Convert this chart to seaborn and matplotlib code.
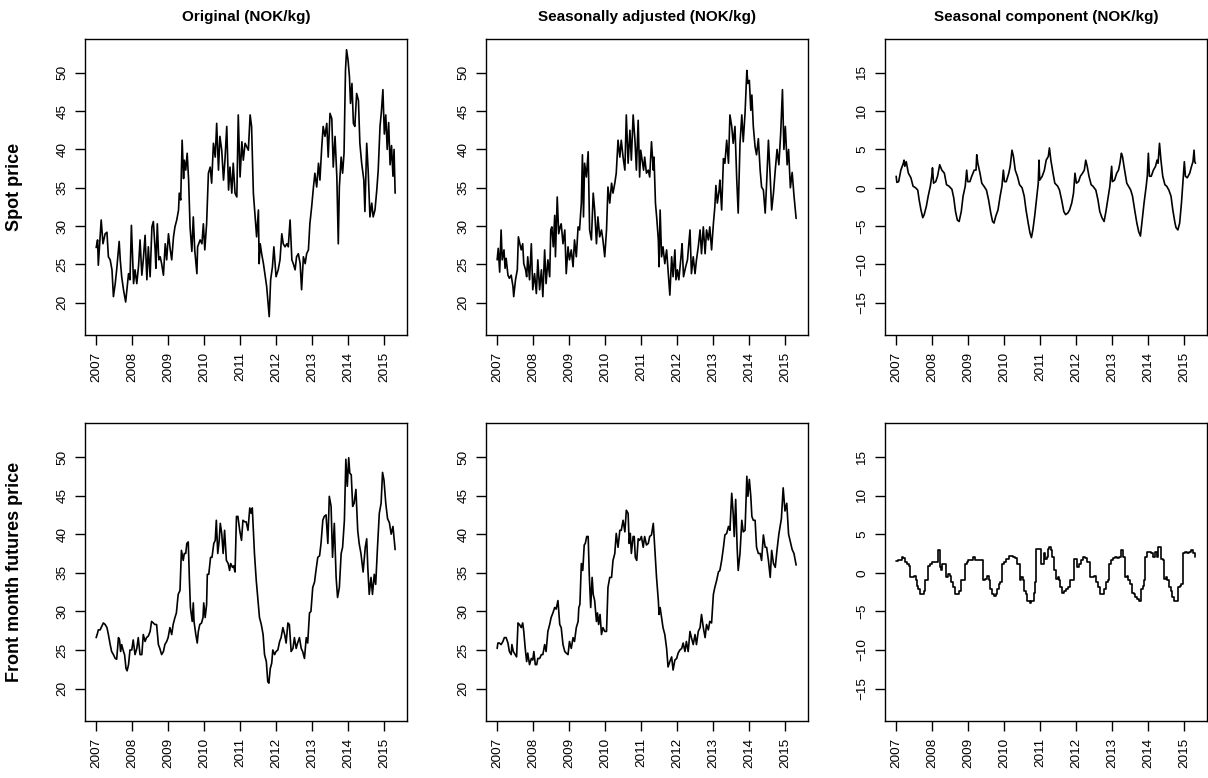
import numpy as np
import pandas as pd
import matplotlib
matplotlib.use("Agg")
import matplotlib.pyplot as plt
import seaborn as sns

# ---------------- data (decimal year, NOK/kg) ----------------
spot_original = [
(2007.00,27.2),(2007.04,28.2),(2007.06,24.9),(2007.14,30.8),(2007.19,27.7),(2007.25,29.0),(2007.30,29.2),(2007.34,26.0),(2007.39,25.6),(2007.44,24.3),(2007.48,20.8),(2007.53,22.5),(2007.57,24.3),(2007.64,28.0),(2007.67,25.6),(2007.71,23.4),(2007.76,21.7),(2007.82,20.1),(2007.90,23.8),(2007.94,23.0),(2007.98,30.1),
(2008.04,22.5),(2008.08,24.3),(2008.13,22.5),(2008.18,24.9),(2008.22,28.2),(2008.27,23.6),(2008.31,25.6),(2008.36,28.8),(2008.41,23.0),(2008.45,27.3),(2008.50,23.4),(2008.55,29.9),(2008.59,30.6),(2008.64,26.9),(2008.66,24.5),(2008.70,30.3),(2008.74,25.6),(2008.78,26.0),(2008.82,25.1),(2008.87,23.6),(2008.92,27.7),(2008.96,25.6),
(2009.01,29.0),(2009.06,26.9),(2009.10,25.6),(2009.15,28.6),(2009.19,29.9),(2009.24,30.8),(2009.29,32.1),(2009.31,34.3),(2009.35,33.4),(2009.39,41.2),(2009.43,36.2),(2009.45,38.6),(2009.49,37.3),(2009.53,39.5),(2009.57,36.0),(2009.61,29.9),(2009.66,26.7),(2009.70,31.2),(2009.74,26.9),(2009.80,23.8),(2009.82,27.3),(2009.89,28.2),(2009.94,27.7),(2009.98,30.3),
(2010.02,26.9),(2010.07,30.3),(2010.12,36.9),(2010.17,37.7),(2010.21,35.6),(2010.26,40.8),(2010.31,39.0),(2010.35,43.4),(2010.40,37.3),(2010.44,41.7),(2010.49,39.9),(2010.54,36.0),(2010.58,38.6),(2010.63,43.0),(2010.68,34.7),(2010.72,37.7),(2010.77,34.3),(2010.81,38.2),(2010.86,34.3),(2010.91,33.8),(2010.95,44.5),
(2011.00,36.4),(2011.05,41.0),(2011.09,38.6),(2011.14,40.8),(2011.19,40.3),(2011.23,39.9),(2011.28,44.5),(2011.32,43.0),(2011.37,34.3),(2011.42,31.2),(2011.46,28.6),(2011.51,32.1),(2011.53,25.1),(2011.56,27.7),(2011.60,26.4),(2011.65,25.1),(2011.69,23.8),(2011.74,22.1),(2011.81,18.2),(2011.85,23.0),(2011.90,24.7),(2011.94,27.3),
(2012.00,23.4),(2012.06,24.3),(2012.11,25.6),(2012.16,29.0),(2012.20,27.7),(2012.25,27.3),(2012.30,27.7),(2012.34,27.3),(2012.39,30.8),(2012.44,25.6),(2012.48,25.1),(2012.53,24.3),(2012.57,26.0),(2012.62,26.4),(2012.67,25.1),(2012.71,21.7),(2012.76,26.0),(2012.81,25.1),(2012.85,26.4),(2012.90,26.9),(2012.94,30.3),(2012.99,32.5),
(2013.04,35.1),(2013.08,36.9),(2013.13,35.1),(2013.18,38.2),(2013.22,36.0),(2013.27,40.3),(2013.31,43.0),(2013.36,41.7),(2013.41,43.4),(2013.45,39.0),(2013.50,44.7),(2013.55,44.0),(2013.59,37.7),(2013.64,41.7),(2013.69,36.4),(2013.73,27.7),(2013.76,35.1),(2013.81,39.0),(2013.85,36.9),(2013.89,39.5),(2013.93,50.3),(2013.96,53.0),
(2014.00,51.7),(2014.04,49.5),(2014.07,46.0),(2014.11,48.6),(2014.15,43.4),(2014.19,43.0),(2014.24,47.3),(2014.29,46.4),(2014.33,40.8),(2014.38,38.2),(2014.44,36.0),(2014.47,31.9),(2014.52,40.8),(2014.56,37.3),(2014.61,31.2),(2014.66,33.0),(2014.70,31.2),(2014.75,32.1),(2014.80,34.7),(2014.84,37.3),(2014.89,43.0),(2014.93,45.0),(2014.97,47.8),
(2015.01,42.0),(2015.05,44.5),(2015.09,40.0),(2015.13,43.5),(2015.17,38.0),(2015.21,40.5),(2015.25,36.5),(2015.28,40.0),(2015.31,34.3)]

spot_adjusted = [
(2007.00,25.6),(2007.03,27.1),(2007.07,24.0),(2007.11,29.5),(2007.14,25.6),(2007.19,26.9),(2007.22,24.5),(2007.25,25.8),(2007.30,23.6),(2007.34,23.2),(2007.39,23.6),(2007.44,22.1),(2007.46,20.8),(2007.51,23.0),(2007.56,24.3),(2007.59,28.6),(2007.63,27.7),(2007.67,26.9),(2007.71,27.7),(2007.74,25.1),(2007.79,24.3),(2007.82,23.4),(2007.85,26.0),(2007.90,23.0),(2007.95,27.7),(2007.99,21.7),
(2008.04,23.8),(2008.09,21.2),(2008.13,25.6),(2008.18,21.7),(2008.23,24.3),(2008.27,20.8),(2008.32,26.9),(2008.36,22.5),(2008.41,25.6),(2008.46,23.4),(2008.49,29.5),(2008.52,29.9),(2008.56,27.3),(2008.60,31.4),(2008.62,26.0),(2008.67,33.8),(2008.71,29.0),(2008.75,29.9),(2008.78,30.3),(2008.83,27.7),(2008.88,29.5),(2008.92,23.8),(2008.97,27.3),
(2009.01,25.6),(2009.06,26.9),(2009.11,24.7),(2009.15,28.2),(2009.20,26.0),(2009.25,29.9),(2009.29,29.5),(2009.34,33.0),(2009.37,39.3),(2009.40,31.2),(2009.43,38.2),(2009.48,36.4),(2009.53,39.7),(2009.57,29.5),(2009.62,28.2),(2009.67,34.3),(2009.71,32.1),(2009.76,27.7),(2009.80,31.2),(2009.85,28.6),(2009.90,29.5),(2009.94,28.2),(2009.99,26.0),
(2010.04,29.5),(2010.08,35.1),(2010.13,33.0),(2010.18,35.6),(2010.22,34.3),(2010.27,35.6),(2010.31,36.9),(2010.36,41.2),(2010.41,39.0),(2010.45,41.2),(2010.50,39.0),(2010.55,37.3),(2010.59,44.5),(2010.64,38.2),(2010.69,42.5),(2010.73,38.6),(2010.78,44.5),(2010.83,41.2),(2010.87,37.3),(2010.92,43.8),(2010.96,36.4),(2010.99,39.9),
(2011.03,38.6),(2011.07,37.3),(2011.10,39.0),(2011.15,36.9),(2011.20,37.3),(2011.24,36.4),(2011.29,41.0),(2011.34,37.3),(2011.36,39.0),(2011.40,33.0),(2011.44,30.8),(2011.48,28.2),(2011.50,24.7),(2011.53,32.1),(2011.57,26.0),(2011.61,27.3),(2011.66,25.1),(2011.71,26.9),(2011.75,24.3),(2011.80,21.0),(2011.85,26.0),(2011.89,23.4),(2011.94,26.9),(2011.97,23.0),
(2012.01,24.3),(2012.05,23.0),(2012.11,26.0),(2012.14,27.7),(2012.18,23.4),(2012.24,24.7),(2012.29,25.6),(2012.36,29.5),(2012.40,23.8),(2012.45,26.0),(2012.50,23.8),(2012.54,25.6),(2012.59,27.3),(2012.64,29.5),(2012.68,26.4),(2012.73,29.9),(2012.78,26.4),(2012.82,29.5),(2012.87,28.2),(2012.91,29.9),(2012.96,26.9),
(2013.01,30.3),(2013.05,32.5),(2013.08,35.3),(2013.12,33.0),(2013.17,34.7),(2013.19,36.0),(2013.24,32.1),(2013.29,38.8),(2013.33,38.2),(2013.38,41.2),(2013.43,38.2),(2013.47,44.5),(2013.52,43.0),(2013.56,40.8),(2013.61,43.0),(2013.66,36.0),(2013.70,31.7),(2013.75,40.8),(2013.80,44.5),(2013.84,41.0),(2013.89,44.7),(2013.94,50.3),(2013.97,48.6),
(2014.01,49.0),(2014.05,45.1),(2014.08,47.1),(2014.12,43.0),(2014.17,40.3),(2014.21,39.3),(2014.26,41.4),(2014.31,37.3),(2014.35,35.1),(2014.40,34.7),(2014.45,31.7),(2014.49,35.6),(2014.54,41.2),(2014.59,36.4),(2014.63,32.1),(2014.68,34.3),(2014.73,37.3),(2014.78,40.0),(2014.83,38.0),(2014.88,42.0),(2014.93,47.8),(2014.97,40.0),
(2015.01,43.0),(2015.06,38.0),(2015.10,40.0),(2015.15,35.0),(2015.20,37.0),(2015.25,34.0),(2015.31,31.0)]

spot_seasonal = [
(2007.00,1.5),(2007.02,0.7),(2007.07,0.8),(2007.13,2.3),(2007.20,3.2),(2007.22,3.6),(2007.24,2.8),(2007.28,3.4),(2007.34,1.9),(2007.41,1.3),(2007.47,0.2),(2007.54,0.0),(2007.60,-0.3),(2007.64,-1.6),(2007.69,-2.9),(2007.74,-3.9),(2007.78,-3.5),(2007.84,-2.4),(2007.89,-1.1),(2007.95,0.2),(2007.99,1.5),
(2008.01,2.6),(2008.04,0.6),(2008.10,0.8),(2008.15,1.5),(2008.21,3.0),(2008.27,2.3),(2008.34,1.9),(2008.40,0.4),(2008.47,0.2),(2008.55,-0.2),(2008.60,-1.3),(2008.65,-3.1),(2008.70,-4.2),(2008.75,-4.4),(2008.81,-3.1),(2008.86,-1.1),(2008.92,0.2),(2008.96,2.3),(2008.99,0.8),
(2009.05,0.8),(2009.10,1.5),(2009.17,2.3),(2009.22,2.3),(2009.24,4.3),(2009.27,3.2),(2009.33,1.9),(2009.38,0.6),(2009.44,0.2),(2009.51,-0.3),(2009.57,-1.6),(2009.63,-3.3),(2009.68,-4.4),(2009.72,-4.6),(2009.77,-3.7),(2009.83,-2.9),(2009.89,-1.1),(2009.94,0.2),(2009.98,2.3),
(2010.01,0.8),(2010.06,0.8),(2010.13,1.9),(2010.17,2.8),(2010.22,4.9),(2010.26,4.1),(2010.31,2.3),(2010.37,1.5),(2010.43,0.4),(2010.50,0.0),(2010.56,-1.1),(2010.61,-2.9),(2010.67,-4.6),(2010.72,-5.9),(2010.76,-6.5),(2010.80,-5.5),(2010.85,-3.7),(2010.91,-1.1),(2010.95,0.6),(2010.97,3.6),(2010.99,1.0),
(2011.06,1.5),(2011.12,2.3),(2011.17,3.6),(2011.23,4.1),(2011.26,5.2),(2011.30,3.6),(2011.36,1.9),(2011.41,0.6),(2011.49,0.2),(2011.54,-0.3),(2011.60,-1.6),(2011.66,-3.1),(2011.71,-3.5),(2011.77,-3.3),(2011.82,-2.9),(2011.88,-2.0),(2011.93,-0.7),(2011.97,1.9),
(2012.01,0.6),(2012.07,0.8),(2012.12,1.5),(2012.18,1.9),(2012.23,2.3),(2012.27,3.6),(2012.31,2.8),(2012.36,1.5),(2012.42,0.4),(2012.47,0.2),(2012.55,-0.3),(2012.61,-1.6),(2012.66,-3.1),(2012.72,-3.9),(2012.78,-4.4),(2012.83,-3.1),(2012.88,-1.6),(2012.94,0.2),(2012.99,2.8),
(2013.01,0.8),(2013.07,1.0),(2013.13,1.9),(2013.18,2.3),(2013.22,3.2),(2013.26,4.5),(2013.29,4.1),(2013.35,2.3),(2013.41,0.6),(2013.46,0.2),(2013.52,-0.3),(2013.57,-1.1),(2013.63,-2.9),(2013.69,-4.6),(2013.74,-5.7),(2013.79,-6.3),(2013.83,-4.6),(2013.89,-2.0),(2013.95,0.2),(2013.98,1.5),
(2014.01,4.5),(2014.04,1.5),(2014.09,1.5),(2014.15,2.3),(2014.21,2.8),(2014.25,3.6),(2014.28,3.2),(2014.32,5.8),(2014.36,3.6),(2014.41,1.5),(2014.47,0.4),(2014.52,0.2),(2014.58,-0.3),(2014.64,-1.1),(2014.69,-2.9),(2014.75,-4.6),(2014.78,-5.2),(2014.83,-5.5),(2014.88,-4.6),(2014.93,-2.0),(2014.97,0.6),
(2015.01,3.4),(2015.04,1.5),(2015.09,1.3),(2015.16,1.9),(2015.21,2.8),(2015.25,3.4),(2015.28,4.9),(2015.30,3.4),(2015.32,3.2)]

futures_original = [
(2007.00,26.6),(2007.04,27.2),(2007.06,27.6),(2007.11,27.6),(2007.16,28.1),(2007.20,28.5),(2007.25,28.3),(2007.30,27.9),(2007.34,27.0),(2007.39,25.7),(2007.43,24.8),(2007.48,24.4),(2007.53,23.9),(2007.57,23.8),(2007.62,26.6),(2007.65,26.3),(2007.68,24.8),(2007.71,25.7),(2007.76,24.8),(2007.79,24.4),(2007.83,22.6),(2007.86,22.3),(2007.90,23.1),(2007.94,25.0),(2007.99,25.0),
(2008.03,26.3),(2008.08,24.4),(2008.13,25.2),(2008.17,26.6),(2008.22,24.4),(2008.27,24.4),(2008.31,27.0),(2008.36,26.1),(2008.40,26.6),(2008.45,26.8),(2008.50,27.4),(2008.54,28.7),(2008.59,28.5),(2008.63,28.3),(2008.68,28.3),(2008.73,25.7),(2008.77,25.2),(2008.82,24.4),(2008.87,24.8),(2008.91,25.7),(2008.96,26.1),
(2009.00,26.6),(2009.05,27.9),(2009.10,27.0),(2009.14,28.3),(2009.19,29.2),(2009.23,29.8),(2009.28,32.2),(2009.33,32.7),(2009.37,37.9),(2009.42,36.6),(2009.45,37.5),(2009.49,37.5),(2009.52,38.8),(2009.56,39.0),(2009.59,34.4),(2009.62,30.5),(2009.67,28.7),(2009.70,31.1),(2009.72,28.7),(2009.77,27.0),(2009.81,25.9),(2009.84,27.4),(2009.88,28.3),(2009.93,28.5),(2009.97,29.2),(2009.99,31.1),
(2010.03,29.2),(2010.07,30.9),(2010.09,34.8),(2010.13,34.8),(2010.18,37.0),(2010.22,37.0),(2010.27,38.8),(2010.31,39.2),(2010.34,41.8),(2010.38,37.5),(2010.42,39.2),(2010.45,41.4),(2010.49,40.1),(2010.53,37.5),(2010.57,40.5),(2010.62,36.6),(2010.67,36.2),(2010.71,35.3),(2010.74,36.2),(2010.79,35.7),(2010.82,35.9),(2010.86,35.1),(2010.90,42.3),(2010.94,42.3),(2010.99,40.5),
(2011.04,39.2),(2011.08,41.8),(2011.13,41.6),(2011.17,41.6),(2011.22,40.5),(2011.27,43.4),(2011.31,42.7),(2011.34,43.4),(2011.40,37.5),(2011.45,34.0),(2011.50,31.4),(2011.54,29.2),(2011.59,28.3),(2011.64,27.0),(2011.68,24.4),(2011.73,23.5),(2011.77,20.9),(2011.80,20.7),(2011.84,22.6),(2011.88,23.3),(2011.91,25.0),(2011.96,24.4),
(2012.00,24.8),(2012.05,25.0),(2012.10,26.1),(2012.14,26.6),(2012.19,27.9),(2012.24,27.0),(2012.28,25.9),(2012.33,28.5),(2012.37,28.3),(2012.42,24.8),(2012.47,25.2),(2012.51,26.6),(2012.56,25.2),(2012.60,25.9),(2012.65,26.6),(2012.70,25.2),(2012.74,24.8),(2012.79,23.9),(2012.84,26.6),(2012.88,25.9),(2012.93,29.8),(2012.97,30.0),
(2013.02,33.1),(2013.07,33.8),(2013.11,35.3),(2013.16,37.0),(2013.21,37.2),(2013.25,38.8),(2013.30,41.8),(2013.34,42.3),(2013.39,42.5),(2013.44,38.8),(2013.48,44.9),(2013.53,43.6),(2013.57,37.0),(2013.62,41.4),(2013.67,34.4),(2013.71,31.8),(2013.76,33.1),(2013.81,37.5),(2013.85,38.3),(2013.90,41.8),(2013.94,49.7),(2013.98,46.2),
(2014.02,49.9),(2014.05,47.9),(2014.09,47.7),(2014.13,43.6),(2014.17,44.0),(2014.22,45.8),(2014.27,40.5),(2014.31,38.8),(2014.36,37.5),(2014.42,35.1),(2014.48,38.3),(2014.52,39.4),(2014.55,35.7),(2014.59,32.2),(2014.64,34.4),(2014.68,32.2),(2014.73,34.8),(2014.77,33.5),(2014.82,38.3),(2014.87,42.7),(2014.92,44.0),(2014.96,48.0),
(2015.00,47.0),(2015.05,44.0),(2015.10,42.0),(2015.15,41.5),(2015.20,40.0),(2015.25,41.0),(2015.31,38.0)]

futures_adjusted = [
(2007.00,25.2),(2007.02,25.9),(2007.06,25.9),(2007.11,25.7),(2007.16,26.1),(2007.20,26.6),(2007.25,26.6),(2007.30,25.9),(2007.34,24.8),(2007.39,24.4),(2007.41,25.7),(2007.45,24.8),(2007.50,24.4),(2007.54,24.1),(2007.58,28.5),(2007.62,28.3),(2007.67,27.9),(2007.71,28.5),(2007.74,27.4),(2007.78,25.2),(2007.82,23.5),(2007.85,24.6),(2007.90,23.1),(2007.95,23.9),(2007.99,23.7),
(2008.02,24.8),(2008.06,23.1),(2008.10,23.1),(2008.13,23.9),(2008.18,23.9),(2008.23,24.4),(2008.27,24.4),(2008.32,25.7),(2008.36,24.8),(2008.41,27.4),(2008.46,28.3),(2008.50,29.2),(2008.55,29.8),(2008.60,30.5),(2008.64,30.3),(2008.69,31.4),(2008.74,28.3),(2008.78,27.9),(2008.83,25.7),(2008.88,24.8),(2008.92,24.6),(2008.97,24.4),
(2009.01,26.1),(2009.06,25.2),(2009.11,26.6),(2009.15,26.1),(2009.20,27.9),(2009.25,28.7),(2009.27,30.5),(2009.30,30.9),(2009.34,36.2),(2009.38,35.3),(2009.42,38.6),(2009.45,38.8),(2009.49,39.7),(2009.53,39.7),(2009.56,34.8),(2009.60,30.5),(2009.64,34.4),(2009.67,32.2),(2009.71,31.4),(2009.76,28.7),(2009.79,29.8),(2009.82,28.3),(2009.86,29.6),(2009.90,27.0),(2009.94,27.9),(2009.99,27.4),
(2010.04,27.4),(2010.08,33.1),(2010.13,34.4),(2010.18,34.4),(2010.22,36.6),(2010.27,37.5),(2010.31,40.1),(2010.36,38.3),(2010.41,40.5),(2010.45,40.5),(2010.50,41.8),(2010.55,40.3),(2010.59,43.1),(2010.64,42.7),(2010.67,38.8),(2010.70,40.1),(2010.73,37.5),(2010.78,39.7),(2010.81,39.7),(2010.84,37.0),(2010.88,36.6),(2010.92,39.4),(2010.96,39.2),
(2011.01,39.7),(2011.06,38.3),(2011.10,39.7),(2011.15,38.6),(2011.20,38.8),(2011.24,39.7),(2011.29,39.9),(2011.34,41.4),(2011.38,38.3),(2011.43,34.4),(2011.48,31.4),(2011.50,29.6),(2011.53,30.5),(2011.57,29.2),(2011.61,27.9),(2011.66,27.0),(2011.71,25.2),(2011.75,22.8),(2011.80,23.5),(2011.85,24.1),(2011.89,22.4),(2011.94,23.7),(2011.99,23.9),
(2012.03,24.6),(2012.08,25.0),(2012.13,25.2),(2012.17,25.9),(2012.22,24.8),(2012.26,26.1),(2012.31,24.8),(2012.36,27.4),(2012.40,26.6),(2012.45,25.7),(2012.50,27.0),(2012.54,25.7),(2012.59,27.4),(2012.64,27.9),(2012.68,29.6),(2012.73,27.9),(2012.78,26.6),(2012.82,28.3),(2012.87,27.6),(2012.91,28.7),(2012.96,28.5),
(2013.01,32.2),(2013.05,33.1),(2013.10,34.0),(2013.15,35.1),(2013.19,35.3),(2013.24,36.6),(2013.29,38.3),(2013.33,39.9),(2013.38,40.1),(2013.43,41.0),(2013.47,40.5),(2013.52,45.3),(2013.56,42.7),(2013.59,39.7),(2013.63,44.5),(2013.67,38.3),(2013.70,35.3),(2013.75,37.5),(2013.80,41.8),(2013.84,40.3),(2013.89,40.5),(2013.94,47.5),(2013.97,44.9),
(2014.01,47.1),(2014.05,44.9),(2014.08,42.3),(2014.12,41.8),(2014.17,41.8),(2014.21,38.3),(2014.26,37.5),(2014.31,37.5),(2014.35,36.6),(2014.40,39.9),(2014.45,38.3),(2014.49,38.3),(2014.54,36.6),(2014.59,34.4),(2014.63,37.9),(2014.68,36.2),(2014.73,35.7),(2014.78,38.0),(2014.83,40.0),(2014.90,42.0),(2014.95,46.0),
(2015.00,43.0),(2015.05,44.0),(2015.10,40.0),(2015.15,39.0),(2015.20,38.0),(2015.25,37.5),(2015.31,36.0)]

futures_seasonal = [
(2007.00,1.5),(2007.06,1.6),(2007.11,1.7),(2007.15,2.0),(2007.20,1.9),(2007.24,1.4),(2007.30,1.2),(2007.35,0.9),(2007.38,-0.6),(2007.45,-0.6),(2007.50,-0.4),(2007.54,-1.0),(2007.58,-1.7),(2007.61,-2.1),(2007.65,-2.8),(2007.73,-2.8),(2007.78,-2.3),(2007.80,-1.0),(2007.86,-1.0),(2007.89,0.9),(2007.95,1.2),
(2008.01,1.4),(2008.08,1.4),(2008.14,1.4),(2008.17,2.9),(2008.21,0.7),(2008.25,0.4),(2008.28,1.2),(2008.34,1.2),(2008.38,-0.6),(2008.43,-0.2),(2008.49,-0.4),(2008.53,-1.2),(2008.58,-1.9),(2008.64,-2.8),(2008.69,-2.8),(2008.75,-2.3),(2008.79,-1.0),(2008.84,-1.0),(2008.90,1.2),(2008.96,1.4),
(2009.01,1.6),(2009.09,1.7),(2009.14,2.0),(2009.20,1.6),(2009.25,1.7),(2009.33,1.7),(2009.38,1.6),(2009.42,-0.9),(2009.48,-0.8),(2009.53,-0.4),(2009.57,-1.0),(2009.62,-2.1),(2009.66,-2.8),(2009.72,-3.0),(2009.77,-2.7),(2009.81,-2.1),(2009.85,-1.5),(2009.90,-1.2),(2009.94,1.2),
(2010.00,1.4),(2010.05,1.8),(2010.09,1.8),(2010.15,2.2),(2010.20,2.2),(2010.26,2.0),(2010.31,1.9),(2010.37,1.2),(2010.43,-1.0),(2010.48,-0.6),(2010.52,-1.0),(2010.56,-2.3),(2010.61,-2.8),(2010.65,-3.6),(2010.71,-3.9),(2010.76,-3.6),(2010.82,-2.6),(2010.85,-1.2),(2010.89,3.1),(2010.95,3.1),
(2011.00,3.1),(2011.02,1.1),(2011.08,1.1),(2011.12,2.5),(2011.15,1.8),(2011.19,2.0),(2011.23,3.1),(2011.26,3.3),(2011.30,2.9),(2011.34,2.0),(2011.39,0.3),(2011.43,-0.8),(2011.49,-0.6),(2011.53,-1.0),(2011.56,-1.9),(2011.62,-2.6),(2011.67,-2.3),(2011.73,-2.1),(2011.79,-1.9),(2011.84,-1.0),(2011.90,-1.0),(2011.93,1.8),(2011.99,1.8),
(2012.03,0.7),(2012.08,1.2),(2012.14,1.6),(2012.20,2.0),(2012.25,1.9),(2012.31,1.4),(2012.36,1.4),(2012.40,-0.6),(2012.46,-0.6),(2012.49,-0.4),(2012.55,-1.2),(2012.61,-1.9),(2012.66,-2.8),(2012.72,-2.7),(2012.77,-2.1),(2012.83,-1.2),(2012.88,-1.0),(2012.92,1.2),(2012.98,1.6),
(2013.03,1.9),(2013.09,2.0),(2013.15,1.9),(2013.20,2.0),(2013.24,3.0),(2013.28,3.0),(2013.31,2.0),(2013.35,-0.6),(2013.41,-0.4),(2013.44,-1.0),(2013.50,-1.5),(2013.55,-2.6),(2013.61,-2.7),(2013.65,-3.2),(2013.70,-3.4),(2013.76,-3.6),(2013.80,-2.1),(2013.85,-1.7),(2013.89,-1.0),(2013.93,2.0),(2013.98,2.7),
(2014.04,2.7),(2014.09,2.5),(2014.15,2.0),(2014.19,2.7),(2014.24,2.0),(2014.28,3.4),(2014.32,3.3),(2014.36,1.8),(2014.41,1.7),(2014.45,-0.8),(2014.50,-0.6),(2014.54,-1.0),(2014.58,-1.9),(2014.64,-2.3),(2014.67,-3.2),(2014.73,-3.6),(2014.78,-3.6),(2014.84,-1.9),(2014.88,-1.7),(2014.93,-1.5),(2014.97,2.5),
(2015.03,2.7),(2015.08,2.5),(2015.14,2.7),(2015.19,2.9),(2015.25,2.5),(2015.31,2.0)]

col_titles = ["Original (NOK/kg)", "Seasonally adjusted (NOK/kg)", "Seasonal component (NOK/kg)"]
row_titles = ["Spot price", "Front month futures price"]
year_ticks = [2007, 2008, 2009, 2010, 2011, 2012, 2013, 2014, 2015]
price_ticks = [20, 25, 30, 35, 40, 45, 50]
seasonal_ticks = [-15, -10, -5, 0, 5, 10, 15]

# ---------------- style ----------------
sns.set_style("ticks")
plt.rcParams['font.family'] = ['Liberation Sans', 'DejaVu Sans']
plt.rcParams['axes.linewidth'] = 1.0
plt.rcParams['text.color'] = 'black'
plt.rcParams['axes.edgecolor'] = 'black'
plt.rcParams['xtick.color'] = 'black'
plt.rcParams['ytick.color'] = 'black'

W, H = 1208, 778
fig = plt.figure(figsize=(W / 100, H / 100), dpi=100)
fig.patch.set_facecolor("white")

col_left = [85, 486, 885]
panel_w = 322
row_top = [39, 423]
panel_h = [296, 298]

grid = [[spot_original, spot_adjusted, spot_seasonal],
        [futures_original, futures_adjusted, futures_seasonal]]

for r in range(2):
    for c in range(3):
        x0 = col_left[c] / W
        y0 = 1 - (row_top[r] + panel_h[r]) / H
        ax = fig.add_axes([x0, y0, panel_w / W, panel_h[r] / H])
        df = pd.DataFrame(grid[r][c], columns=["year", "value"])
        kw = dict(drawstyle="steps-post") if (r == 1 and c == 2) else {}
        sns.lineplot(data=df, x="year", y="value", ax=ax, color="black",
                     linewidth=1.2, estimator=None, sort=False, **kw)
        ax.set_xlim(2006.69, 2015.64)
        if c < 2:
            ax.set_ylim(15.8, 54.4)
            ax.set_yticks(price_ticks)
        else:
            ax.set_ylim(-19.2, 19.4)
            ax.set_yticks(seasonal_ticks)
        ax.set_xticks(year_ticks)
        ax.set_xticklabels([str(y) for y in year_ticks], rotation=90)
        for lab in ax.get_yticklabels():
            lab.set_rotation(90)
            lab.set_va("center")
        ax.tick_params(direction="out", length=7, width=1, labelsize=9.7,
                       pad=5, colors="black", labelcolor="black")
        ax.set_xlabel("")
        ax.set_ylabel("")
        for s in ax.spines.values():
            s.set_visible(True)
            s.set_color("black")
        if r == 0:
            fig.text((col_left[c] + panel_w / 2) / W, 1 - 17 / H, col_titles[c],
                     ha="center", va="center", fontsize=11, fontweight="bold",
                     color="black")
    fig.text(15 / W, 1 - (row_top[r] + panel_h[r] / 2) / H, row_titles[r],
             ha="center", va="center", rotation=90, fontsize=13, fontweight="bold",
             color="black")

fig.savefig("out.png", dpi=100, facecolor="white")
